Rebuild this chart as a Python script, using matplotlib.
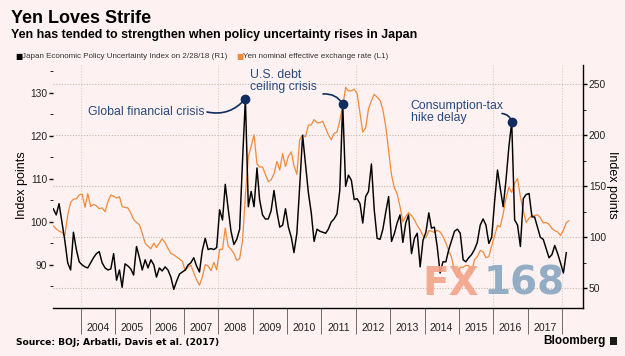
import pandas as pd
import matplotlib
matplotlib.use('Agg')
import matplotlib.pyplot as plt
import matplotlib.dates as mdates
from matplotlib.patches import Rectangle

# Japan Economic Policy Uncertainty Index, monthly from Mar 2003 (right axis)
epu_index = [
    128, 122, 133, 115, 97, 75, 68, 105, 88, 76, 73, 71,
    70, 75, 80, 84, 86, 75, 70, 68, 69, 84, 58, 68,
    51, 74, 72, 69, 63, 91, 80, 68, 78, 70, 78, 73,
    61, 70, 67, 71, 68, 61, 49, 57, 64, 66, 68, 73,
    75, 80, 72, 66, 87, 99, 88, 89, 88, 90, 127, 117,
    152, 128, 106, 93, 98, 108, 176, 236, 130, 145, 130, 168,
    137, 122, 118, 118, 126, 146, 125, 110, 112, 128, 110, 100,
    85, 104, 150, 200, 172, 144, 124, 96, 108, 106, 105, 104,
    108, 115, 118, 123, 146, 231, 150, 161, 156, 137, 138, 133,
    114, 140, 145, 172, 127, 99, 98, 108, 125, 140, 96, 104,
    114, 122, 95, 114, 122, 84, 99, 104, 71, 97, 105, 124,
    109, 110, 91, 65, 76, 76, 88, 97, 106, 108, 104, 78,
    76, 80, 83, 88, 95, 112, 118, 112, 94, 100, 135, 166,
    148, 130, 156, 189, 213, 117, 112, 91, 138, 142, 143, 120,
    120, 110, 100, 98, 89, 80, 83, 92, 84, 75, 65, 85,
]

# Yen nominal effective exchange rate, monthly from Mar 2003 (left axis)
yen_neer = [
    99.0, 98.3, 97.8, 97.5, 96.7, 101.5, 104.5, 105.2, 105.3, 106.2, 106.4, 103.3,
    106.5, 103.5, 104.0, 103.7, 103.0, 103.2, 102.3, 104.6, 106.2, 105.9, 105.5, 105.8,
    103.5, 103.3, 103.2, 102.0, 100.5, 99.8, 99.3, 97.3, 95.0, 94.3, 93.7, 95.0,
    94.0, 95.0, 96.0, 95.1, 93.8, 92.6, 92.3, 91.8, 91.3, 90.8, 88.6, 89.5,
    89.9, 88.2, 86.5, 85.2, 87.1, 90.0, 89.7, 88.6, 90.5, 88.8, 93.5, 93.6,
    98.5, 94.3, 93.6, 92.6, 91.0, 91.4, 95.7, 106.0, 115.0, 117.5, 120.2, 113.4,
    112.7, 112.7, 111.0, 109.3, 109.7, 111.1, 114.0, 112.0, 115.8, 112.8, 115.2, 116.2,
    113.0, 111.0, 119.0, 120.2, 119.7, 122.4, 122.5, 123.7, 123.0, 123.0, 123.3, 121.7,
    120.2, 119.0, 120.5, 120.8, 123.5, 126.7, 131.2, 130.4, 130.4, 130.8, 129.8, 125.2,
    120.8, 121.8, 126.2, 128.1, 129.6, 128.9, 128.2, 126.0, 122.0, 116.5, 110.8, 107.8,
    106.5, 103.5, 100.0, 101.2, 102.1, 101.4, 100.4, 99.1, 98.1, 96.7, 96.2, 97.9,
    97.8, 97.5, 98.0, 97.6, 96.6, 95.1, 93.2, 91.7, 88.3, 87.1, 89.4, 89.4,
    89.8, 89.8, 87.9, 91.2, 91.8, 93.3, 93.0, 91.6, 91.9, 94.4, 96.7, 99.1,
    98.8, 101.8, 105.4, 108.0, 106.8, 108.9, 110.0, 105.8, 102.5, 99.8, 100.8, 101.4,
    101.4, 101.6, 100.9, 99.7, 99.8, 99.4, 98.4, 97.9, 97.6, 96.8, 98.0, 99.8, 100.2,
]

years = list(range(2004, 2018))
left_ticks = [90, 100, 110, 120, 130]
right_ticks = [50, 100, 150, 200, 250]
events = [
    ('Global financial crisis', '2008-10'),
    ('U.S. debt\nceiling crisis', '2011-08'),
    ('Consumption-tax\nhike delay', '2016-07'),
]

BG = '#fdf2f1'
ORANGE = '#f08a3c'
NAVY = '#0f2d5f'
ANNO = '#27497c'
GRID = '#c4b6a8'

plt.rcParams['font.family'] = ['Liberation Sans', 'DejaVu Sans']

start = pd.Timestamp('2003-03-01')
epu_dates = pd.date_range(start, periods=len(epu_index), freq='MS') + pd.Timedelta(days=14)
neer_dates = pd.date_range(start, periods=len(yen_neer), freq='MS') + pd.Timedelta(days=14)
epu = pd.Series(epu_index, index=epu_dates)

fig = plt.figure(figsize=(6.25, 3.56), dpi=100, facecolor=BG)
ax = fig.add_axes([0.0853, 0.1357, 0.8470, 0.6817])
ax.set_facecolor(BG)

ax.plot(neer_dates, yen_neer, color=ORANGE, lw=0.9, zorder=3)
ax.set_ylim(80, 136.4)
ax.set_xlim(pd.Timestamp('2003-03-15'), pd.Timestamp('2018-08-08'))

ax2 = ax.twinx()
ax2.set_ylim(31, 269)
for v in right_ticks:
    ax2.axhline(v, color=GRID, lw=0.8, ls=(0, (1, 1.5)), zorder=0)
ax2.plot(epu_dates, epu_index, color='black', lw=1.05, zorder=3)

for yr in [2004, 2008, 2012, 2016, 2018]:
    ax.axvline(pd.Timestamp(f'{yr}-01-01'), color='#dccfc2', lw=0.8, ls=(0, (1, 1.5)), zorder=0)

# x axis: long year ticks, labels centred in each year
ax.xaxis.set_major_locator(mdates.YearLocator(1))
ax.xaxis.set_major_formatter(plt.NullFormatter())
ax.set_xticks([pd.Timestamp(f'{y}-07-01') for y in years], labels=[str(y) for y in years], minor=True)
ax.tick_params(axis='x', which='major', length=19, width=0.7, color='#6b6b6b', direction='out')
ax.tick_params(axis='x', which='minor', length=0, labelsize=7.6, pad=11, labelcolor='#222222')

ax.set_yticks(left_ticks)
ax.set_yticks([85, 95, 105, 115, 125, 135], minor=True)
ax.tick_params(axis='y', which='major', length=3, width=1.0, labelsize=7.4, pad=1.5, labelcolor='#222222')
ax.tick_params(axis='y', which='minor', length=2, width=0.6)

ax2.set_yticks(right_ticks)
ax2.set_yticks([75, 125, 175, 225], minor=True)
ax2.tick_params(axis='y', which='major', length=3, width=1.0, labelsize=7.4, pad=1.5, labelcolor='#222222')
ax2.tick_params(axis='y', which='minor', length=2, width=0.6)

for s in ['top', 'right', 'left']:
    ax.spines[s].set_visible(False)
for s in ['top', 'left', 'bottom']:
    ax2.spines[s].set_visible(False)
ax.spines['bottom'].set_linewidth(1.0)
ax2.spines['right'].set_linewidth(1.0)

# event markers and callouts
text_pos = [(205, 244.3, 'right'), (250.5, 287, 'left'), (410.5, 256, 'left')]
line_start = [(207, 244), (323, 262), (502, 242.5)]
rads = [0.3, -0.3, -0.35]
for (label, month), (tx, ty, ha), (lx, ly), rad in zip(events, text_pos, line_start, rads):
    d = epu[month].index[0]
    v = epu[month].iloc[0]
    ax2.annotate('', xy=(d, v), xycoords='data', xytext=(lx, ly), textcoords='figure pixels',
                 arrowprops=dict(arrowstyle='-', color=NAVY, lw=1.2, shrinkA=0, shrinkB=0,
                                 connectionstyle=f'arc3,rad={rad}'), zorder=5)
    ax2.plot([d], [v], 'o', color=NAVY, ms=6, zorder=6)
    va = 'center' if '\n' not in label else 'top'
    fig.text(tx / 625, ty / 356, label, ha=ha, va=va, fontsize=8.8, color=ANNO, linespacing=1.05)

# FX168 watermark
ax2.text(0.698, 0.02, 'FX', transform=ax2.transAxes, fontsize=28, fontweight='bold',
         family='DejaVu Sans', color='#f4a489', alpha=0.9, zorder=7, ha='left', va='bottom')
ax2.text(0.813, 0.02, '168', transform=ax2.transAxes, fontsize=28, fontweight='bold',
         family='DejaVu Sans', color='#86a6c0', alpha=0.9, zorder=7, ha='left', va='bottom')

# titles and legend
fig.text(11 / 625, 1 - 22.7 / 356, 'Yen Loves Strife', fontsize=13, fontweight='bold', va='baseline')
fig.text(11 / 625, 1 - 38.3 / 356, 'Yen has tended to strengthen when policy uncertainty rises in Japan',
         fontsize=8.9, fontweight='bold', va='baseline')
fig.text(15 / 625, 1 - 56 / 356, '\u25a0', family='DejaVu Sans', fontsize=5.5, color='black', va='center')
fig.text(22 / 625, 1 - 56 / 356, 'Japan Economic Policy Uncertainty Index on 2/28/18 (R1)',
         fontsize=5.8, color='#333333', va='center')
fig.text(236 / 625, 1 - 56 / 356, '\u25a0', family='DejaVu Sans', fontsize=5.5, color=ORANGE, va='center')
fig.text(243 / 625, 1 - 56 / 356, 'Yen nominal effective exchange rate (L1)',
         fontsize=5.8, color='#333333', va='center')

fig.text(22 / 625, 1 - 185 / 356, 'Index points', rotation=90, ha='center', va='center', fontsize=9)
fig.text(612 / 625, 1 - 185 / 356, 'Index points', rotation=270, ha='center', va='center', fontsize=9)

fig.text(16 / 625, 1 - 342.5 / 356, 'Source: BOJ; Arbatli, Davis et al. (2017)', family='DejaVu Sans',
         fontsize=6.6, fontweight='bold', va='center')
fig.text(606 / 625, 1 - 341 / 356, 'Bloomberg', fontsize=8.5, fontweight='bold', ha='right', va='center')
fig.add_artist(Rectangle((610 / 625, 1 - 345 / 356), 7 / 625, 8 / 356, transform=fig.transFigure,
                         facecolor='#1a1a1a', edgecolor='none'))

fig.savefig('out.png', dpi=100, facecolor=BG)
